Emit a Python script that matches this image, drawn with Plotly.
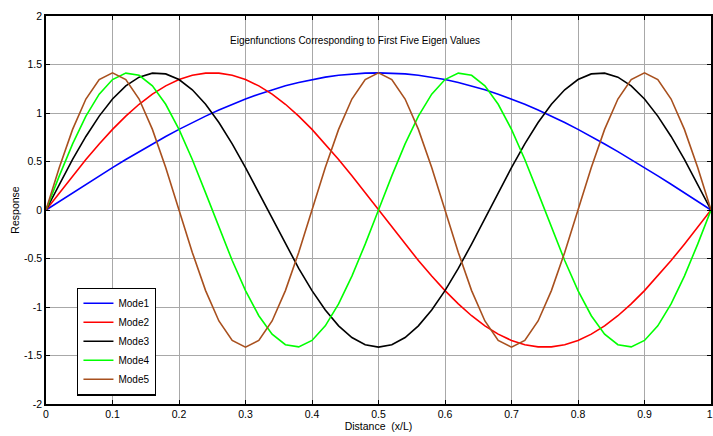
import plotly.graph_objects as go

x = [round(0.02 * i, 2) for i in range(51)]

mode1 = [0, .089, .177, .265, .352, .437, .521, .602, .681, .758, .831, .902, .968, 1.031, 1.090, 1.144,
         1.194, 1.239, 1.280, 1.315, 1.345, 1.370, 1.389, 1.403, 1.411, 1.414,
         1.411, 1.403, 1.389, 1.370, 1.345, 1.315, 1.280, 1.239, 1.194, 1.144, 1.090, 1.031, .968, .902,
         .831, .758, .681, .602, .521, .437, .352, .265, .177, .089, 0]

mode2 = [0, .177, .352, .521, .681, .831, .968, 1.090, 1.194, 1.280, 1.345, 1.389, 1.411,
         1.411, 1.389, 1.345, 1.280, 1.194, 1.090, .968, .831, .681, .521, .352, .177, 0,
         -.177, -.352, -.521, -.681, -.831, -.968, -1.090, -1.194, -1.280, -1.345, -1.389, -1.411,
         -1.411, -1.389, -1.345, -1.280, -1.194, -1.090, -.968, -.831, -.681, -.521, -.352, -.177, 0]

mode3 = [0, .265, .521, .758, .968, 1.144, 1.280, 1.370, 1.411, 1.403, 1.345, 1.239, 1.090, .902,
         .681, .437, .177, -.089, -.352, -.602, -.831, -1.031, -1.194, -1.315, -1.389, -1.414,
         -1.389, -1.315, -1.194, -1.031, -.831, -.602, -.352, -.089, .177, .437, .681, .902, 1.090,
         1.239, 1.345, 1.403, 1.411, 1.370, 1.280, 1.144, .968, .758, .521, .265, 0]

mode4 = [0, .352, .681, .968, 1.194, 1.345, 1.411, 1.389, 1.280, 1.090, .831, .521, .177,
         -.177, -.521, -.831, -1.090, -1.280, -1.389, -1.411, -1.345, -1.194, -.968, -.681, -.352, 0,
         .352, .681, .968, 1.194, 1.345, 1.411, 1.389, 1.280, 1.090, .831, .521, .177,
         -.177, -.521, -.831, -1.090, -1.280, -1.389, -1.411, -1.345, -1.194, -.968, -.681, -.352, 0]

mode5 = [0, .437, .831, 1.144, 1.345, 1.414, 1.345, 1.144, .831, .437,
         0, -.437, -.831, -1.144, -1.345, -1.414, -1.345, -1.144, -.831, -.437,
         0, .437, .831, 1.144, 1.345, 1.414, 1.345, 1.144, .831, .437,
         0, -.437, -.831, -1.144, -1.345, -1.414, -1.345, -1.144, -.831, -.437,
         0, .437, .831, 1.144, 1.345, 1.414, 1.345, 1.144, .831, .437, 0]

names = ["Mode1", "Mode2", "Mode3", "Mode4", "Mode5"]
series = [mode1, mode2, mode3, mode4, mode5]
colors = ["#0000FF", "#FF0000", "#000000", "#00FF00", "#A8501E"]

x_ticks = [0, 0.1, 0.2, 0.3, 0.4, 0.5, 0.6, 0.7, 0.8, 0.9, 1.0]
x_tick_labels = ["0", "0.1", "0.2", "0.3", "0.4", "0.5", "0.6", "0.7", "0.8", "0.9", "1."]
y_ticks = [-2, -1.5, -1, -0.5, 0, 0.5, 1, 1.5, 2]
y_tick_labels = ["-2", "-1.5", "-1", "-0.5", "0", "0.5", "1", "1.5", "2"]

FONT = "Liberation Sans, Arial, sans-serif"

fig = go.Figure()
for n, s, c in zip(names, series, colors):
    fig.add_trace(go.Scatter(x=x, y=s, mode="lines", name=n,
                             line=dict(color=c, width=1.6)))

axis_common = dict(
    showline=True, linecolor="black", linewidth=1.5, mirror="allticks",
    ticks="inside", ticklen=4, tickcolor="black", tickwidth=1,
    showgrid=True, gridcolor="#a8a8a8", gridwidth=1,
    zeroline=False, tickfont=dict(family=FONT, size=10.5, color="black"),
    automargin=False, ticklabeloverflow="allow",
)

fig.update_xaxes(range=[0, 1], tickvals=x_ticks, ticktext=x_tick_labels,
                 title=dict(text="Distance  (x/L)", font=dict(family=FONT, size=10.5, color="black"),
                            standoff=2),
                 **axis_common)
fig.update_yaxes(range=[-2, 2], tickvals=y_ticks, ticktext=y_tick_labels,
                 title=dict(text="Response", font=dict(family=FONT, size=10.5, color="black"),
                            standoff=2),
                 **axis_common)

fig.add_annotation(text="Eigenfunctions Corresponding to First Five Eigen Values",
                   xref="paper", yref="paper", x=0.465, y=0.938, showarrow=False,
                   xanchor="center", yanchor="middle",
                   font=dict(family=FONT, size=10, color="black"))

fig.update_layout(
    width=713, height=436,
    margin=dict(l=46, r=2, t=16, b=32),
    paper_bgcolor="white", plot_bgcolor="white",
    font=dict(family=FONT, size=10.5, color="black"),
    legend=dict(x=0.047, y=0.3, xanchor="left", yanchor="top",
                bgcolor="white", bordercolor="black", borderwidth=1.2,
                font=dict(family=FONT, size=10, color="black"),
                itemwidth=30, tracegroupgap=0),
    showlegend=True,
)

fig.write_html("out.html", config={"displayModeBar": False},
               post_script="document.body.style.margin='0';document.body.style.overflow='hidden';")
